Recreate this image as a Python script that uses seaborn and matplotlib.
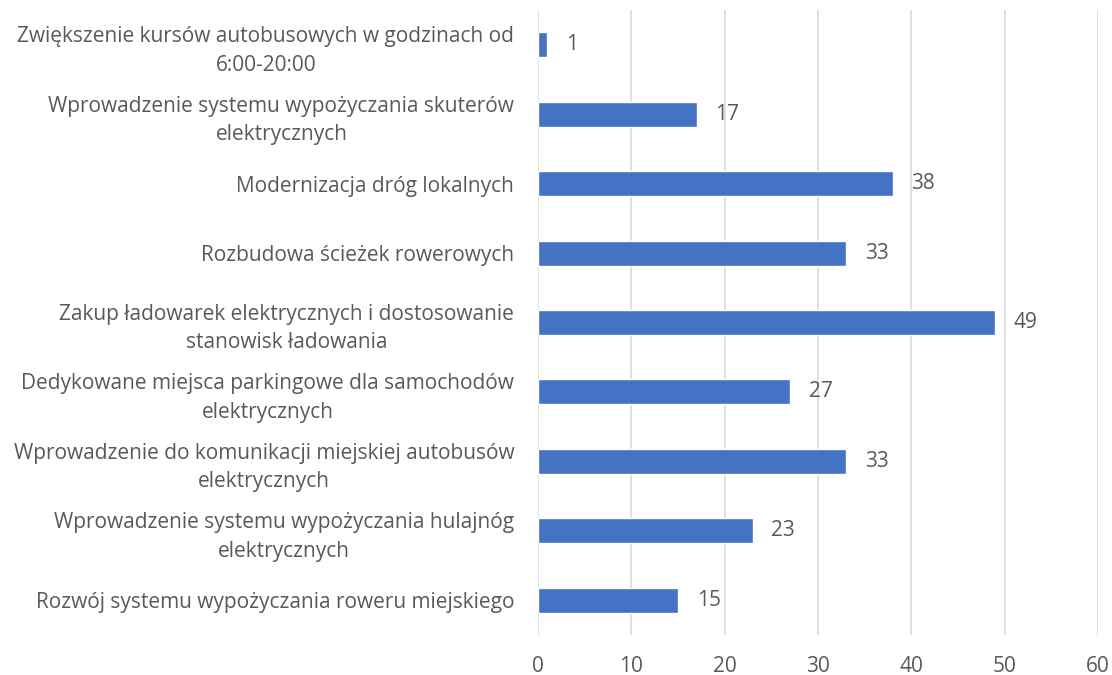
import matplotlib
matplotlib.use("Agg")
import matplotlib.pyplot as plt
import seaborn as sns
import pandas as pd

# Dane (od góry do dołu)
kategorie = [
    "Zwiększenie kursów autobusowych w godzinach od\n6:00-20:00",
    "Wprowadzenie systemu wypożyczania skuterów\nelektrycznych",
    "Modernizacja dróg lokalnych",
    "Rozbudowa ścieżek rowerowych",
    "Zakup ładowarek elektrycznych i dostosowanie\nstanowisk ładowania",
    "Dedykowane miejsca parkingowe dla samochodów\nelektrycznych",
    "Wprowadzenie do komunikacji miejskiej autobusów\nelektrycznych",
    "Wprowadzenie systemu wypożyczania hulajnóg\nelektrycznych",
    "Rozwój systemu wypożyczania roweru miejskiego",
]
wartosci = [1, 17, 38, 33, 49, 27, 33, 23, 15]
ticki_x = [0, 10, 20, 30, 40, 50, 60]

df = pd.DataFrame({"kategoria": kategorie, "wartosc": wartosci})

sns.set_style("white")
plt.rcParams["font.family"] = ["Open Sans", "DejaVu Sans"]
tekst = "#595959"

fig = plt.figure(figsize=(11.12, 6.75), dpi=100)
ax = fig.add_axes([0.4838, 0.0593, 0.5036, 0.9257])

sns.barplot(data=df, x="wartosc", y="kategoria", color="#4472C4",
            saturation=1, width=0.36, ax=ax, zorder=3)

for i, v in enumerate(wartosci):
    ax.text(v + 2.0, i, str(v), va="center", ha="left", fontsize=15, color=tekst)

ax.set_xlim(0, 60)
ax.set_xticks(ticki_x)
ax.grid(axis="x", color="#d9d9d9", linewidth=1.2, zorder=0)
ax.grid(axis="y", visible=False)
for s in ax.spines.values():
    s.set_visible(False)
ax.set_xlabel("")
ax.set_ylabel("")
ax.tick_params(axis="both", length=0, labelcolor=tekst, labelsize=15)
ax.tick_params(axis="x", pad=15)
ax.tick_params(axis="y", pad=17)
for lab in ax.get_yticklabels():
    lab.set_horizontalalignment("right")
    lab.set_multialignment("center")
    lab.set_linespacing(1.45)

fig.savefig("out.png", dpi=100)
